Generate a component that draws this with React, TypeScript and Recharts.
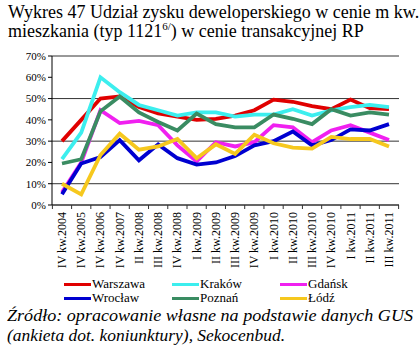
import React from "react"
import { LineChart, Line, XAxis, YAxis, CartesianGrid } from "recharts"

const quarters = [
  "IV kw.2004", "IV kw.2005", "IV kw.2006", "IV kw.2007", "II kw.2008", "III kw.2008",
  "IV kw.2008", "I kw.2009", "II kw.2009", "III kw.2009", "IV kw.2009", "I kw.2010",
  "II kw.2010", "III kw.2010", "IV kw.2010", "I kw.2011", "II kw.2011", "III kw.2011",
]

const warszawa = [30, 40, 50, 51, 46, 43, 41.5, 40, 40.5, 42, 44.5, 49.5, 48.5, 46.5, 45, 49.5, 45.5, 45]
const krakow = [21.5, 34, 60, 53, 47, 44.5, 42, 43.5, 43.5, 41.5, 42.5, 42.5, 45, 42, 44.5, 46, 47, 46]
const gdansk = [6, 20, 44.5, 38.5, 39.5, 37.5, 28, 20.5, 29.5, 27.5, 29.5, 37.5, 36.5, 29.5, 35, 37.5, 34, 30.5]
const wroclaw = [5, 19.5, 22.5, 30.5, 21, 28.5, 22, 19, 20, 23, 28, 30, 34.5, 28, 30.5, 35.5, 35, 38]
const poznan = [19.5, 21.5, 44, 51, 43.5, 39, 35, 43, 38, 36.5, 36.5, 42.5, 40.5, 38, 45, 42, 43.5, 42.5]
const lodz = [10, 5, 23.5, 33.5, 26, 27.5, 31, 22, 28.5, 24, 33, 29, 27, 26.5, 32, 31, 31, 27.5]

const yTicks = [0, 10, 20, 30, 40, 50, 60, 70]

const series = [
  { key: "warszawa", name: "Warszawa", color: "#e00000", values: warszawa },
  { key: "krakow", name: "Kraków", color: "#3ceeee", values: krakow },
  { key: "gdansk", name: "Gdańsk", color: "#f020f0", values: gdansk },
  { key: "wroclaw", name: "Wrocław", color: "#0000d0", values: wroclaw },
  { key: "poznan", name: "Poznań", color: "#3a8c62", values: poznan },
  { key: "lodz", name: "Łódź", color: "#f6c81e", values: lodz },
]

const data = quarters.map((q, i) => {
  const row: Record<string, string | number> = { q }
  series.forEach((s) => (row[s.key] = s.values[i]))
  return row
})

const serif = '"Liberation Serif", "Times New Roman", serif'
const halfStep = 9.6

// rotated category label, centred on the point; tick marks sit between categories
function QuarterTick({ x, y, payload, index }: any) {
  return (
    <g>
      {index === 0 && <line x1={x - halfStep} x2={x - halfStep} y1={y - 6} y2={y - 2} stroke="#333" />}
      <line x1={x + halfStep} x2={x + halfStep} y1={y - 6} y2={y - 2} stroke="#333" />
      <text
        transform={`translate(${x + 4},${y + 1}) rotate(-90)`}
        textAnchor="end"
        fontFamily={serif}
        fontSize={12}
        fill="#000"
      >
        {payload.value}
      </text>
    </g>
  )
}

export default function App() {
  return (
    <div
      style={{
        position: "absolute",
        left: 0,
        top: 0,
        width: 420,
        height: 355,
        background: "#fff",
        fontFamily: serif,
        color: "#000",
        overflow: "hidden",
      }}
    >
      <div style={{ position: "absolute", left: 8, top: 3, fontSize: 18, lineHeight: "19px", whiteSpace: "nowrap" }}>
        Wykres 47 Udział zysku deweloperskiego w cenie m kw.
        <br />
        mieszkania (typ 1121<sup style={{ fontSize: 11, lineHeight: 0 }}>6/</sup>) w cenie transakcyjnej RP
      </div>

      <div style={{ position: "absolute", left: 0, top: 50 }}>
        <LineChart width={420} height={230} data={data} margin={{ top: 6, right: 21, bottom: 10, left: 0 }}>
          <CartesianGrid vertical={false} stroke="#333" strokeWidth={1} />
          <XAxis
            dataKey="q"
            interval={0}
            height={65}
            padding={{ left: 10, right: 10 }}
            tick={<QuarterTick />}
            tickSize={4}
            tickLine={false}
            axisLine={{ stroke: "#333" }}
          />
          <YAxis
            width={52}
            domain={[0, 70]}
            ticks={yTicks}
            tickFormatter={(v) => `${v}%`}
            tick={{ fontFamily: serif, fontSize: 11, fill: "#000" }}
            tickSize={4}
            tickLine={{ stroke: "#000" }}
            axisLine={{ stroke: "#000" }}
          />
          <YAxis
            yAxisId="frame"
            orientation="right"
            width={0}
            domain={[0, 70]}
            tick={false}
            tickLine={false}
            axisLine={{ stroke: "#aaa" }}
          />
          {series.map((s) => (
            <Line
              key={s.key}
              dataKey={s.key}
              name={s.name}
              stroke={s.color}
              strokeWidth={3.8}
              dot={false}
              type="linear"
              isAnimationActive={false}
            />
          ))}
        </LineChart>
      </div>

      <div
        style={{
          position: "absolute",
          left: 64,
          top: 277,
          display: "grid",
          gridTemplateColumns: "108px 108px 100px",
          fontSize: 13,
          lineHeight: "14px",
        }}
      >
        {series.map((s) => (
          <div key={s.key} style={{ display: "flex", alignItems: "center" }}>
            <span style={{ display: "inline-block", width: 27, height: 3, background: s.color, marginRight: 1 }} />
            <span>{s.name}</span>
          </div>
        ))}
      </div>

      <svg width={420} height={48} style={{ position: "absolute", left: 0, top: 306 }}>
        <text x={7} y={15} fontFamily={serif} fontStyle="italic" fontSize={17.5} textLength={406} lengthAdjust="spacingAndGlyphs">
          Źródło: opracowanie własne na podstawie danych GUS
        </text>
        <text x={7} y={35} fontFamily={serif} fontStyle="italic" fontSize={17.5} textLength={278} lengthAdjust="spacingAndGlyphs">
          (ankieta dot. koniunktury), Sekocenbud.
        </text>
      </svg>
    </div>
  )
}
